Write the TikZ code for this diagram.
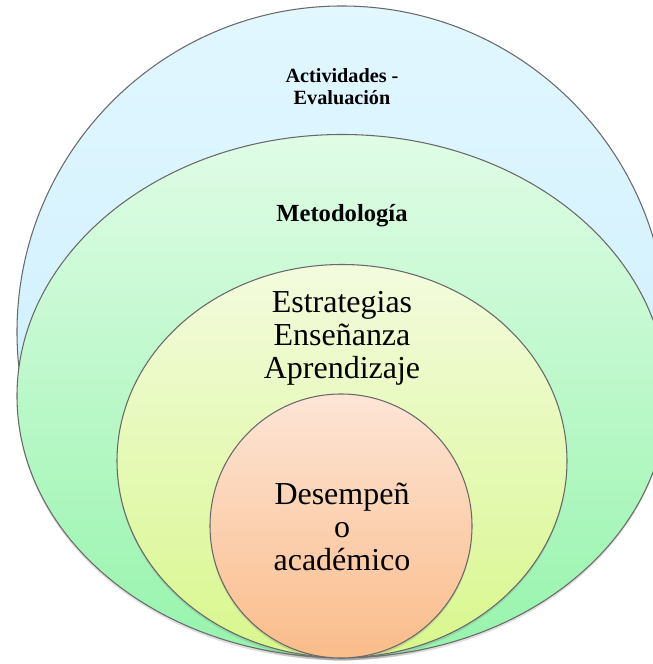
\documentclass[tikz,border=0pt]{standalone}
\usepackage{fontspec}
\setmainfont{Liberation Serif}
\usepackage{tikz}
\usetikzlibrary{shadows}
\usepackage{xcolor}

\definecolor{bluetop}{RGB}{226,247,255}
\definecolor{bluebot}{RGB}{196,236,252}
\definecolor{greentop}{RGB}{224,252,230}
\definecolor{greenbot}{RGB}{150,244,172}
\definecolor{yellowtop}{RGB}{243,251,222}
\definecolor{yellowbot}{RGB}{216,247,140}
\definecolor{orangetop}{RGB}{253,229,214}
\definecolor{orangebot}{RGB}{250,188,138}
\definecolor{rimgray}{RGB}{105,105,105}

\begin{document}
\begin{tikzpicture}[
  ring/.style={draw=rimgray, line width=0.6pt,
    drop shadow={shadow xshift=0pt, shadow yshift=-1.5pt, opacity=0.25}},
  lbl/.style={align=center, inner sep=0pt}]
\useasboundingbox (0,0) rectangle (13.06,13.28);
\clip (0,0) rectangle (13.06,13.28);
\draw[ring, top color=bluetop, bottom color=bluebot](6.84,6.64) ellipse (6.5 and 6.52);% outer ring
\draw[ring, top color=greentop, bottom color=greenbot](6.84,5.36) ellipse (6.5 and 5.23);% second ring
\draw[ring, top color=yellowtop, bottom color=yellowbot](6.84,4.06) ellipse (4.5 and 3.93);% third ring
\draw[ring, top color=orangetop, bottom color=orangebot](6.82,2.76) ellipse (2.62 and 2.64);% inner circle

\node[lbl, font=\fontsize{11.5}{12.6}\selectfont\bfseries] (activ) at (6.84,11.55) {Actividades -\\Evaluación};
\node[lbl, font=\fontsize{14}{16}\selectfont\bfseries] (metod) at (6.84,8.97) {Metodología};
\node[lbl, font=\fontsize{18.2}{18.8}\selectfont] (estrat) at (6.84,6.52) {Estrategias\\Enseñanza\\Aprendizaje};
\node[lbl, font=\fontsize{18.2}{18.8}\selectfont] (desemp) at (6.84,2.74) {Desempeñ\\o\\académico};
\end{tikzpicture}
\end{document}
